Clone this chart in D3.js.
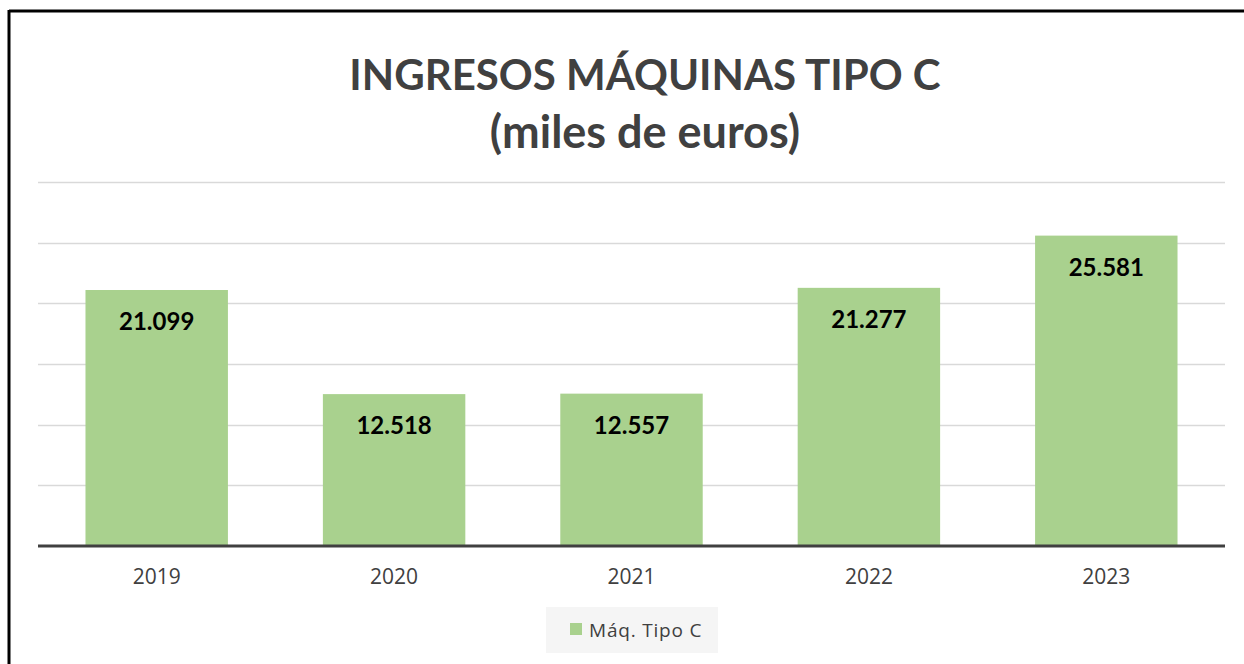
<!DOCTYPE html>
<html><head><meta charset="utf-8">
<script src="https://cdn.jsdelivr.net/npm/d3@7"></script>
<style>body{margin:0;background:#fff;}svg{display:block;}</style>
</head><body>
<script>
const categories = ["2019", "2020", "2021", "2022", "2023"];
const values = [21099, 12518, 12557, 21277, 25581];
const valueLabels = ["21.099", "12.518", "12.557", "21.277", "25.581"];
const yTicks = [0, 5000, 10000, 15000, 20000, 25000, 30000];
const titleLines = ["INGRESOS MÁQUINAS TIPO C", "(miles de euros)"];
const seriesName = "Máq. Tipo C";

(function () {
const W = 1244, H = 664;
const svg = d3.select("body").append("svg").attr("width", W).attr("height", H);
svg.append("rect").attr("width", W).attr("height", H).attr("fill", "#fff");

// frame (top and left only visible)
svg.append("line").attr("x1", 9).attr("x2", W).attr("y1", 11).attr("y2", 11).attr("stroke", "#000").attr("stroke-width", 3);
svg.append("line").attr("x1", 9).attr("x2", 9).attr("y1", 10).attr("y2", H).attr("stroke", "#000").attr("stroke-width", 3);

const pL = 38, pR = 1225, pT = 182, pB = 546;
const x = d3.scaleBand().domain(categories).range([pL, pR]).paddingInner(0.4).paddingOuter(0.2);
const y = d3.scaleLinear().domain([0, 30000]).range([pB, pT]);

// gridlines
svg.append("g").selectAll("line").data(yTicks.slice(1)).join("line")
  .attr("x1", pL).attr("x2", pR)
  .attr("y1", d => Math.round(y(d)) + 0.5).attr("y2", d => Math.round(y(d)) + 0.5)
  .attr("stroke", "#d9d9d9").attr("stroke-width", 1.3);

// bars
svg.append("g").selectAll("rect").data(values).join("rect")
  .attr("x", (d, i) => x(categories[i]))
  .attr("width", x.bandwidth())
  .attr("y", d => y(d))
  .attr("height", d => y(0) - y(d))
  .attr("fill", "#a9d18e");

// value labels
svg.append("g").selectAll("text").data(values).join("text")
  .attr("x", (d, i) => x(categories[i]) + x.bandwidth() / 2)
  .attr("y", d => y(d) + 40)
  .attr("text-anchor", "middle")
  .attr("font-family", "Lato, 'Open Sans', sans-serif")
  .attr("font-weight", "bold").attr("font-size", 24).attr("fill", "#000")
  .text((d, i) => valueLabels[i]);

// x axis
const xAxis = d3.axisBottom(x).tickSize(0).tickPadding(23);
const gx = svg.append("g").attr("transform", `translate(0,${pB})`).call(xAxis);
gx.select(".domain").remove();
gx.selectAll("text").attr("font-family", "'Open Sans', Lato, sans-serif").attr("font-size", 21).attr("fill", "#404040");
svg.append("line").attr("x1", pL).attr("x2", pR).attr("y1", pB).attr("y2", pB)
  .attr("stroke", "#404040").attr("stroke-width", 3);

// title
const titleSizes = [42, 45];
svg.append("g").selectAll("text").data(titleLines).join("text")
  .attr("x", 645).attr("y", (d, i) => i === 0 ? 90 : 148)
  .attr("text-anchor", "middle")
  .attr("font-family", "Lato, 'Open Sans', sans-serif")
  .attr("font-weight", "bold").attr("font-size", (d, i) => titleSizes[i]).attr("fill", "#404040")
  .text(d => d);

// legend
const lg = svg.append("g");
lg.append("rect").attr("x", 546).attr("y", 607).attr("width", 172).attr("height", 46).attr("fill", "#f5f5f5");
lg.append("rect").attr("x", 570).attr("y", 623).attr("width", 12).attr("height", 12).attr("fill", "#a9d18e");
lg.append("text").attr("x", 589).attr("y", 637)
  .attr("font-family", "'Open Sans', Lato, sans-serif").attr("font-size", 19).attr("letter-spacing", 0.8).attr("fill", "#404040")
  .text(seriesName);
})();
</script>
</body></html>
